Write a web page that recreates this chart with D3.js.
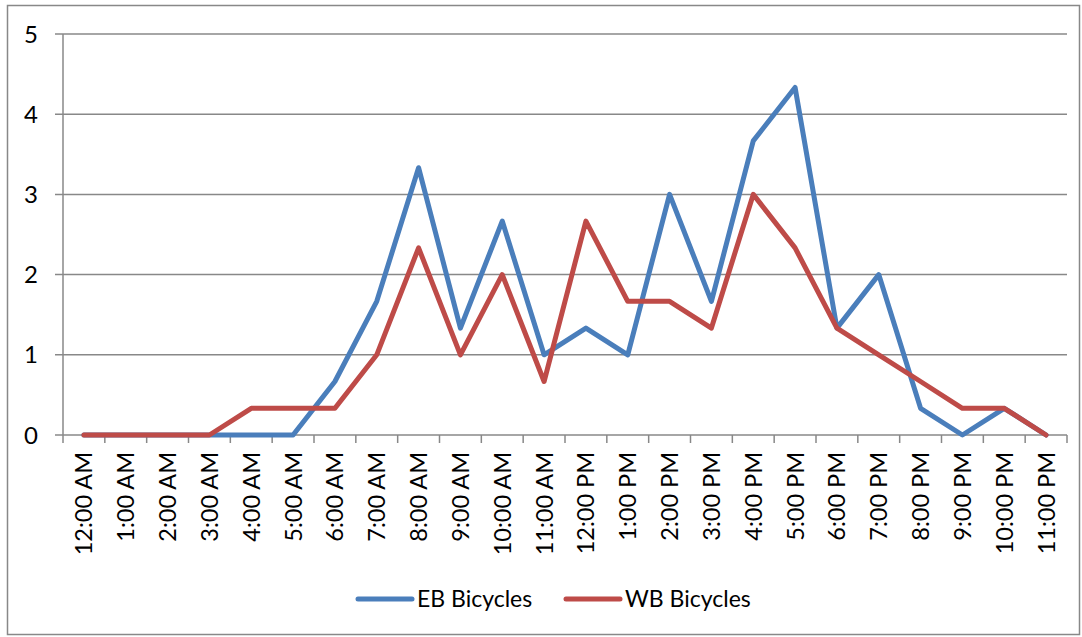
<!DOCTYPE html>
<html><head><meta charset="utf-8">
<script src="https://cdn.jsdelivr.net/npm/d3@7"></script>
<style>body{margin:0;background:#fff}svg{display:block}text{font-family:Lato,"Open Sans",sans-serif;fill:#000}</style>
</head><body><svg id="c" width="1082" height="637"></svg>
<script>
const categories = ["12:00 AM","1:00 AM","2:00 AM","3:00 AM","4:00 AM","5:00 AM","6:00 AM","7:00 AM","8:00 AM","9:00 AM","10:00 AM","11:00 AM","12:00 PM","1:00 PM","2:00 PM","3:00 PM","4:00 PM","5:00 PM","6:00 PM","7:00 PM","8:00 PM","9:00 PM","10:00 PM","11:00 PM"];
const ebValues = [0,0,0,0,0,0,0.667,1.667,3.333,1.333,2.667,1,1.333,1,3,1.667,3.667,4.333,1.333,2,0.333,0,0.333,0];
const wbValues = [0,0,0,0,0.333,0.333,0.333,1,2.333,1,2,0.667,2.667,1.667,1.667,1.333,3,2.333,1.333,1,0.667,0.333,0.333,0];
const yTicks = [0,1,2,3,4,5];
const seriesNames = ["EB Bicycles","WB Bicycles"];
const colors = ["#4A7EBB","#BE4B48"];

const svg = d3.select("#c");
svg.append("rect").attr("x",7.5).attr("y",5.5).attr("width",1072).attr("height",629).attr("fill","none").attr("stroke","#888").attr("stroke-width",1.5);

const L=63, R=1067, T=34, B=435;
const x = d3.scaleBand().domain(categories).range([L,R]);
const y = d3.scaleLinear().domain([0,5]).range([B,T]);
const g = svg.append("g");

g.selectAll(".grid").data(yTicks).join("line")
 .attr("x1",L-8).attr("x2",R).attr("y1",d=>y(d)).attr("y2",d=>y(d))
 .attr("stroke","#888").attr("stroke-width",1.5);
g.append("line").attr("x1",L).attr("x2",L).attr("y1",T).attr("y2",B).attr("stroke","#888").attr("stroke-width",1.5);
g.selectAll(".yl").data(yTicks).join("text")
 .attr("x",31).attr("y",d=>y(d)).attr("dy","0.36em").attr("text-anchor","middle")
 .attr("font-size",24).text(d=>d);
const bounds = categories.map(c=>x(c)).concat([R]);
g.selectAll(".xt").data(bounds).join("line")
 .attr("x1",d=>d).attr("x2",d=>d).attr("y1",B).attr("y2",B+8).attr("stroke","#888").attr("stroke-width",1.5);
g.selectAll(".xl").data(categories).join("text")
 .attr("transform",d=>`translate(${x(d)+x.bandwidth()/2},${B+17}) rotate(-90)`)
 .attr("text-anchor","end").attr("dy","0.36em").attr("font-size",23.5).text(d=>d);

const line = d3.line().x((d,i)=>x(categories[i])+x.bandwidth()/2).y(d=>y(d));
[ebValues,wbValues].forEach((vals,k)=>{
  g.append("path").datum(vals).attr("d",line).attr("fill","none")
   .attr("stroke",colors[k]).attr("stroke-width",5).attr("stroke-linejoin","round").attr("stroke-linecap","round");
});
const lx=[358,566];
seriesNames.forEach((n,k)=>{
  svg.append("line").attr("x1",lx[k]).attr("x2",lx[k]+54).attr("y1",599).attr("y2",599)
   .attr("stroke",colors[k]).attr("stroke-width",5).attr("stroke-linecap","round");
  svg.append("text").attr("x",lx[k]+59).attr("y",599).attr("dy","0.36em").attr("font-size",23).text(n);
});
</script></body></html>
